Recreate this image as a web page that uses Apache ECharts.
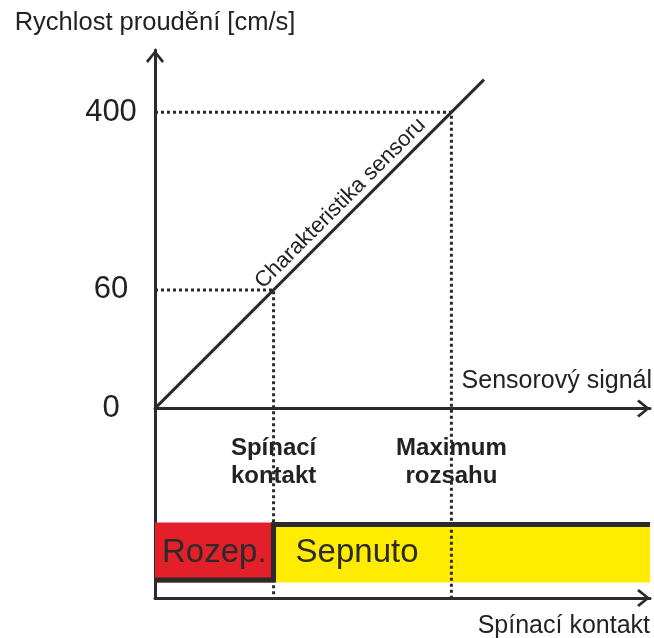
<!DOCTYPE html>
<html>
<head>
<meta charset="utf-8">
<script src="https://cdn.jsdelivr.net/npm/echarts@6/dist/echarts.min.js"></script>
<style>
  html, body { margin: 0; padding: 0; background: #fff; }
  #main { width: 654px; height: 638px; }
</style>
</head>
<body>
<div id="main"></div>
<script>
// sensor signal in arbitrary units, characteristic is a straight line y = x
const sensorLine = [[0, 0], [111, 111]];
const switchSignal = 40;   // Spínací kontakt
const maxSignal = 100;     // Maximum rozsahu

// velocity ticks on the y axis (placed at the signal where they occur)
const yTickSignals = [0, switchSignal, maxSignal];
const yTickLabels = ['0', '60', '400'];

const markerSignals = [switchSignal, maxSignal];
const markerLabels = ['Spínací\nkontakt', 'Maximum\nrozsahu'];

const contactStates = ['Rozep.', 'Sepnuto'];

// layout of the diagram (units of the signal axis)
const X_MAX = 167, Y_MIN = -64, Y_MAX = 121;
const BAND_TOP = -38.5, BAND_BOTTOM = -58.8;
const STATE_LOW = -57.9, STATE_HIGH = -39.2;

const DARK = '#2b2b2b';
const TEXT = '#222';
const FONT = 'Liberation Sans, Arial, sans-serif';
// open chevron arrow, pointing up like the built-in 'arrow'
const ARROW = 'path://M9,0 L18,11 L16,13 L9,4 L2,13 L0,11 Z';

const axisLine = {
    symbol: ['none', ARROW],
    symbolSize: [18, 13],
    symbolOffset: [0, -6.5],
    lineStyle: { color: DARK, width: 3 }
};

const stepLine = [
    [0, STATE_LOW], [switchSignal, STATE_LOW],
    [switchSignal, STATE_HIGH], [X_MAX, STATE_HIGH]
];

const dotted = { color: DARK, width: 3, type: 'dotted' };

// dotted guide from the y axis to the characteristic and down to the bottom axis
function guide(i) {
    const s = markerSignals[i];
    return {
        type: 'line', symbol: 'none', z: 5, lineStyle: dotted,
        data: [[0, s], [s, s], [s, Y_MIN]],
        markPoint: {
            silent: true,
            symbol: 'circle', symbolSize: 0,
            label: {
                show: true, position: 'bottom', distance: 26,
                formatter: markerLabels[i],
                fontSize: 24, fontWeight: 'bold', lineHeight: 28, color: TEXT
            },
            data: [{ coord: [s, 0] }]
        }
    };
}

const myChart = echarts.init(document.getElementById('main'));
myChart.setOption({
    animation: false,
    textStyle: { fontFamily: FONT },
    grid: { left: 155, right: 4, top: 50, bottom: 40, outerBoundsMode: 'none' },
    xAxis: [
        {
            type: 'value', min: 0, max: X_MAX,
            axisLine: Object.assign({ onZero: true }, axisLine),
            axisTick: { show: false },
            splitLine: { show: false },
            axisLabel: { show: false },
            name: 'Sensorový signál',
            nameLocation: 'end',
            nameGap: 2,
            nameTextStyle: {
                fontSize: 25, color: TEXT, align: 'right',
                verticalAlign: 'bottom', padding: [0, 0, 15, 0]
            }
        },
        {
            type: 'value', min: 0, max: X_MAX, position: 'bottom',
            axisLine: Object.assign({ onZero: false }, axisLine),
            axisTick: { show: false },
            splitLine: { show: false },
            axisLabel: { show: false },
            name: 'Spínací kontakt',
            nameLocation: 'end',
            nameGap: 0,
            nameTextStyle: {
                fontSize: 25, color: TEXT, align: 'right',
                verticalAlign: 'top', padding: [16, 0, 0, 0]
            }
        }
    ],
    yAxis: {
        type: 'value', min: Y_MIN, max: Y_MAX,
        axisLine: Object.assign({ onZero: false }, axisLine),
        axisTick: { show: false },
        splitLine: { show: false },
        axisLabel: {
            customValues: yTickSignals,
            formatter: v => yTickLabels[yTickSignals.indexOf(v)],
            fontSize: 31, color: TEXT, align: 'center', margin: 44
        },
        name: 'Rychlost proudění [cm/s]',
        nameLocation: 'end',
        nameGap: 14,
        nameTextStyle: { fontSize: 25.5, color: TEXT }
    },
    series: [
        {
            // switch contact state
            type: 'line', data: stepLine, symbol: 'none', z: 3,
            lineStyle: { color: DARK, width: 5, cap: 'butt', join: 'miter' },
            markArea: {
                silent: true,
                data: [
                    [{
                        xAxis: 0, yAxis: BAND_TOP,
                        itemStyle: { color: '#e3202a' },
                        label: { show: true, position: 'inside', formatter: contactStates[0],
                                 fontSize: 33, color: DARK }
                    }, { xAxis: switchSignal, yAxis: BAND_BOTTOM }],
                    [{
                        xAxis: switchSignal, yAxis: BAND_TOP,
                        itemStyle: { color: '#ffec00' },
                        label: { show: true, position: 'insideLeft', distance: 22,
                                 formatter: contactStates[1], fontSize: 33, color: DARK }
                    }, { xAxis: X_MAX, yAxis: BAND_BOTTOM }]
                ]
            }
        },
        {
            // sensor characteristic
            type: 'line', data: sensorLine, symbol: 'none', z: 4,
            lineStyle: { color: DARK, width: 3 },
            markLine: {
                silent: true,
                symbol: ['none', 'none'],
                lineStyle: { color: 'rgba(0,0,0,0)', width: 1 },
                label: {
                    show: true, position: 'insideMiddleTop', distance: 3,
                    formatter: 'Charakteristika sensoru', fontSize: 22, color: TEXT
                },
                data: [[{ coord: [20.8, 20.8] }, { coord: sensorLine[1] }]]
            }
        },
        guide(0),
        guide(1)
    ]
});
</script>
</body>
</html>
